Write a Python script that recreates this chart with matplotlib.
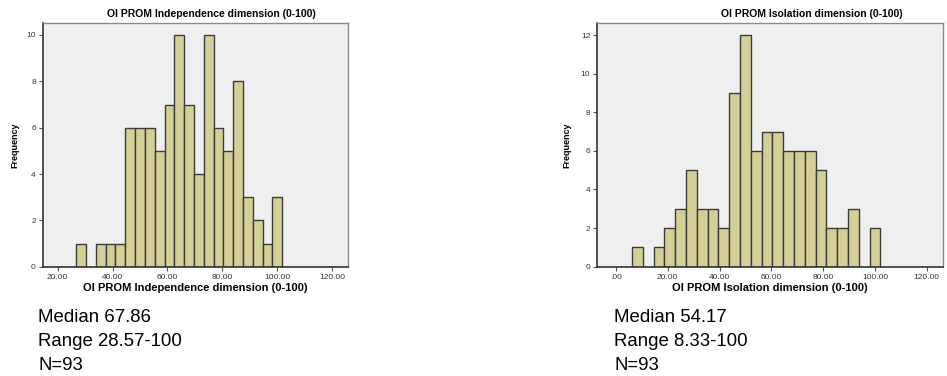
import numpy as np
import matplotlib.pyplot as plt

# bin midpoints and frequencies
indep_mid = [28.57, 32.14, 35.71, 39.29, 42.86, 46.43, 50.00, 53.57, 57.14, 60.71, 64.29,
             67.86, 71.43, 75.00, 78.57, 82.14, 85.71, 89.29, 92.86, 96.43, 100.00]
indep_freq = [1, 0, 1, 1, 1, 6, 6, 6, 5, 7, 10, 7, 4, 10, 6, 5, 8, 3, 2, 1, 3]

isol_mid = [8.33, 12.50, 16.67, 20.83, 25.00, 29.17, 33.33, 37.50, 41.67, 45.83, 50.00,
            54.17, 58.33, 62.50, 66.67, 70.83, 75.00, 79.17, 83.33, 87.50, 91.67, 95.83, 100.00]
isol_freq = [1, 0, 1, 2, 3, 5, 3, 3, 2, 9, 12, 6, 7, 7, 6, 6, 6, 5, 2, 2, 3, 0, 2]

indep_ticks = [20, 40, 60, 80, 100, 120]
isol_ticks = [0, 20, 40, 60, 80, 100, 120]

titles = ["OI PROM Independence dimension (0-100)", "OI PROM Isolation dimension (0-100)"]
stats = [["Median 67.86", "Range 28.57-100", "N=93"],
         ["Median 54.17", "Range 8.33-100", "N=93"]]

plt.rcParams['font.family'] = ['Liberation Sans', 'DejaVu Sans']

fig = plt.figure(figsize=(9.47, 3.76), dpi=100)
ax1 = fig.add_axes([0.0451, 0.2907, 0.3224, 0.6489])
ax2 = fig.add_axes([0.6307, 0.2907, 0.3651, 0.6489])

bar_col = '#d4cf96'
edge_col = '#3c3c3c'


def hist(ax, mids, freqs, width, ticks, xlim, ylim, yticks, xlabel):
    ax.bar(mids, freqs, width=width, color=bar_col, edgecolor=edge_col, linewidth=1.0)
    ax.set_facecolor('#efefef')
    ax.set_xlim(*xlim)
    ax.set_ylim(*ylim)
    ax.set_xticks(ticks)
    ax.set_xticklabels([('%.2f' % t) if t else '.00' for t in ticks])
    ax.set_yticks(yticks)
    ax.tick_params(labelsize=6, length=3, width=0.8, colors='#555555', labelcolor='#333333', pad=2)
    for s in ['left', 'bottom']:
        ax.spines[s].set_color('#333333')
        ax.spines[s].set_linewidth(1.2)
    for s in ['top', 'right']:
        ax.spines[s].set_color('#8a8a8a')
        ax.spines[s].set_linewidth(1.0)
    ax.set_xlabel(xlabel, fontsize=8, fontweight='bold', labelpad=2)


hist(ax1, indep_mid, indep_freq, 100 / 28, indep_ticks, (14.6, 125.7), (0, 10.53),
     range(0, 11, 2), titles[0])
hist(ax2, isol_mid, isol_freq, 100 / 24, isol_ticks, (-7.2, 126.3), (0, 12.64),
     range(0, 13, 2), titles[1])

fig.text(211 / 947, 0.962, titles[0], ha='center', va='center', fontsize=7.5, fontweight='bold')
fig.text(812 / 947, 0.962, titles[1], ha='center', va='center', fontsize=7.5, fontweight='bold')
fig.text(15 / 947, 0.615, "Frequency", rotation=90, ha='center', va='center',
         fontsize=6.5, fontweight='bold')
fig.text(567 / 947, 0.615, "Frequency", rotation=90, ha='center', va='center',
         fontsize=6.5, fontweight='bold')

for x0, lines in zip([38, 614], stats):
    for i, txt in enumerate(lines):
        y = 1 - (321.7 + i * 24) / 376
        fig.text(x0 / 947, y, txt, ha='left', va='baseline', fontsize=13.4)

fig.savefig('out.png', dpi=100)
